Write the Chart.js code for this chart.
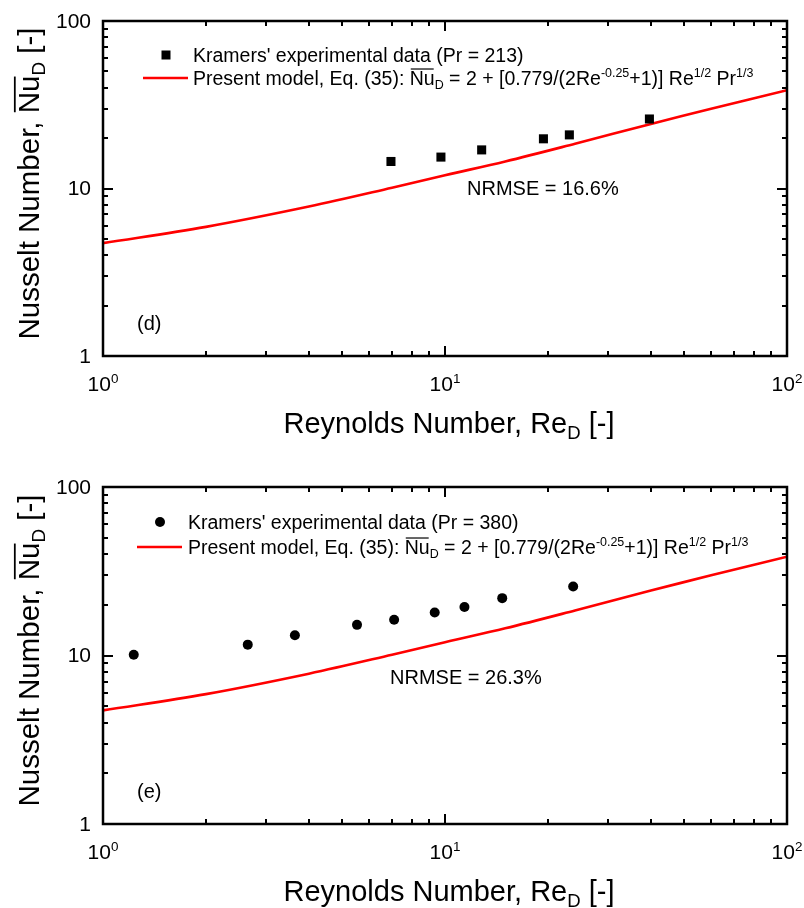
<!DOCTYPE html>
<html lang="en">
<head>
<meta charset="UTF-8">
<title>Nusselt number vs Reynolds number - Kramers' data</title>
<script src="https://cdn.jsdelivr.net/npm/chart.js@4.4.1/dist/chart.umd.min.js"></script>
<style>
  html, body { margin: 0; padding: 0; background: #fff; }
  canvas { display: block; }
</style>
</head>
<body>
<canvas id="chartD" width="804" height="454"></canvas>
<canvas id="chartE" width="804" height="454"></canvas>
<script>
// panel (d): Kramers' data, Pr = 213
var reD = [6.95, 9.73, 12.8, 19.4, 23.1, 39.6];
var nuD = [14.5, 15.4, 17.0, 19.8, 20.9, 26.0];

// panel (e): Kramers' data, Pr = 380
var reE = [1.23, 2.65, 3.64, 5.53, 7.10, 9.33, 11.4, 14.7, 23.7];
var nuE = [10.1, 11.6, 13.2, 15.2, 16.3, 18.0, 19.4, 21.9, 25.7];

// Eq. (35) curve (same line in both panels)
var modelRe = [1, 2, 4, 7, 10, 15, 24, 40, 60, 100];
var modelNu = [4.72, 5.9, 7.8, 10.1, 12.0, 14.5, 18.5, 24.3, 29.9, 38.6];

// axis ticks
var majorTicks = [1, 10, 100];
var xTickLabels = [['10', '0'], ['10', '1'], ['10', '2']];
var yTickLabels = ['1', '10', '100'];

var FONT = '"Liberation Sans", Arial, Helvetica, sans-serif';

// minor tick positions 2..9, 20..90
var minorTicks = [];
[1, 10].forEach(function (d) {
    for (var k = 2; k <= 9; k++) minorTicks.push(k * d);
});

// text with sub/superscripts and overlines, y is the baseline
function partFont(p, size) {
    return (p.s ? size * 0.64 : size) + 'px ' + FONT;
}
function drawRich(ctx, parts, x, y, size, align) {
    var total = 0;
    parts.forEach(function (p) {
        ctx.font = partFont(p, size);
        p.w = ctx.measureText(p.t).width;
        total += p.w;
    });
    var cx = align === 'center' ? x - total / 2 : x;
    ctx.textAlign = 'left';
    ctx.textBaseline = 'alphabetic';
    parts.forEach(function (p) {
        ctx.font = partFont(p, size);
        var dy = p.s === 'sub' ? size * 0.22 : (p.s === 'sup' ? -size * 0.4 : 0);
        ctx.fillText(p.t, cx, y + dy);
        if (p.over) {
            ctx.save();
            ctx.lineWidth = Math.max(1.2, size * 0.06);
            ctx.beginPath();
            ctx.moveTo(cx + 1, y - size * 0.82);
            ctx.lineTo(cx + p.w - 1, y - size * 0.82);
            ctx.stroke();
            ctx.restore();
        }
        cx += p.w;
    });
}

var modelParts = [
    { t: "Present model, Eq. (35): " },
    { t: 'Nu', over: true },
    { t: 'D', s: 'sub' },
    { t: ' = 2 + [0.779/(2Re' },
    { t: '-0.25', s: 'sup' },
    { t: '+1)] Re' },
    { t: '1/2', s: 'sup' },
    { t: ' Pr' },
    { t: '1/3', s: 'sup' }
];
var xTitleParts = [
    { t: 'Reynolds Number, Re' },
    { t: 'D', s: 'sub' },
    { t: ' [-]' }
];
var yTitleParts = [
    { t: 'Nusselt Number, ' },
    { t: 'Nu', over: true },
    { t: 'D', s: 'sub' },
    { t: ' [-]' }
];

// frame, inward ticks, labels, titles, legend and notes
var paperFrame = {
    id: 'paperFrame',
    afterDraw: function (chart, args, o) {
        var ctx = chart.ctx;
        var a = chart.chartArea;
        var xs = chart.scales.x, ys = chart.scales.y;
        ctx.save();
        ctx.strokeStyle = '#000';
        ctx.fillStyle = '#000';

        // tick marks on all four sides
        ctx.lineWidth = 2;
        ctx.beginPath();
        majorTicks.concat(minorTicks).forEach(function (v) {
            if (v <= 1 || v >= 100) return;
            var len = majorTicks.indexOf(v) >= 0 ? 10 : 5;
            var px = Math.round(xs.getPixelForValue(v));
            var py = Math.round(ys.getPixelForValue(v));
            ctx.moveTo(px, a.bottom); ctx.lineTo(px, a.bottom - len);
            ctx.moveTo(px, a.top); ctx.lineTo(px, a.top + len);
            ctx.moveTo(a.left, py); ctx.lineTo(a.left + len, py);
            ctx.moveTo(a.right, py); ctx.lineTo(a.right - len, py);
        });
        ctx.stroke();

        ctx.lineWidth = 2.5;
        ctx.strokeRect(a.left, a.top, a.right - a.left, a.bottom - a.top);

        // y tick labels
        ctx.font = '21px ' + FONT;
        ctx.textAlign = 'right';
        ctx.textBaseline = 'middle';
        majorTicks.forEach(function (v, i) {
            ctx.fillText(yTickLabels[i], a.left - 12, ys.getPixelForValue(v) + 1);
        });

        // x tick labels 10^n
        majorTicks.forEach(function (v, i) {
            drawRich(ctx, [{ t: xTickLabels[i][0] }, { t: xTickLabels[i][1], s: 'sup' }],
                xs.getPixelForValue(v), a.bottom + 35, 21, 'center');
        });

        // axis titles
        drawRich(ctx, xTitleParts, (a.left + a.right) / 2 + 4, a.bottom + 77, 29, 'center');
        ctx.save();
        ctx.translate(39, (a.top + a.bottom) / 2 - 5);
        ctx.rotate(-Math.PI / 2);
        drawRich(ctx, yTitleParts, 0, 0, 29.5, 'center');
        ctx.restore();

        // legend
        var lg = o.legend;
        if (o.marker === 'rect') {
            ctx.fillRect(a.left + lg.mx - 4.5, a.top + lg.row1 - 4.5, 9, 9);
        } else {
            ctx.beginPath();
            ctx.arc(a.left + lg.mx, a.top + lg.row1, 5, 0, Math.PI * 2);
            ctx.fill();
        }
        ctx.strokeStyle = '#ff0000';
        ctx.lineWidth = 2.6;
        ctx.beginPath();
        ctx.moveTo(a.left + lg.lx0, a.top + lg.row2);
        ctx.lineTo(a.left + lg.lx1, a.top + lg.row2);
        ctx.stroke();
        ctx.strokeStyle = '#000';
        drawRich(ctx, [{ t: o.dataLabel }], a.left + lg.tx, a.top + lg.row1 + 7, 19.5, 'left');
        drawRich(ctx, modelParts, a.left + lg.tx, a.top + lg.row2 + 7, 19.5, 'left');

        // NRMSE note and panel letter
        drawRich(ctx, [{ t: o.nrmse }], a.left + o.nrmseX, a.top + o.nrmseY + 7, 20, 'left');
        drawRich(ctx, [{ t: o.letter }], a.left + 34, a.bottom - 26, 20, 'left');

        ctx.restore();
    }
};

function makePanel(id, re, nu, marker, radius, frameOpts, padding) {
    var pts = re.map(function (r, i) { return { x: r, y: nu[i] }; });
    var curve = modelRe.map(function (r, i) { return { x: r, y: modelNu[i] }; });
    return new Chart(document.getElementById(id), {
        type: 'scatter',
        data: {
            datasets: [{
                label: 'Present model, Eq. (35)',
                data: curve,
                showLine: true,
                borderColor: '#ff0000',
                borderWidth: 2.6,
                pointRadius: 0,
                tension: 0.35,
                order: 2
            }, {
                label: frameOpts.dataLabel,
                data: pts,
                pointStyle: marker,
                pointRadius: radius,
                backgroundColor: '#000',
                borderColor: '#000',
                borderWidth: 0,
                order: 1
            }]
        },
        options: {
            responsive: false,
            animation: false,
            devicePixelRatio: 1,
            layout: { padding: padding },
            scales: {
                x: { type: 'logarithmic', min: 1, max: 100, display: false },
                y: { type: 'logarithmic', min: 1, max: 100, display: false }
            },
            plugins: {
                legend: { display: false },
                tooltip: { enabled: false },
                paperFrame: frameOpts
            }
        },
        plugins: [paperFrame]
    });
}

makePanel('chartD', reD, nuD, 'rect', 6.4, {
    dataLabel: "Kramers' experimental data (Pr = 213)",
    marker: 'rect',
    legend: { mx: 63, lx0: 40, lx1: 85, tx: 90, row1: 34, row2: 57 },
    nrmse: 'NRMSE = 16.6%', nrmseX: 364, nrmseY: 167,
    letter: '(d)'
}, { left: 103, right: 17, top: 21, bottom: 98 });

makePanel('chartE', reE, nuE, 'circle', 5, {
    dataLabel: "Kramers' experimental data (Pr = 380)",
    marker: 'circle',
    legend: { mx: 57, lx0: 34, lx1: 79, tx: 85, row1: 35, row2: 60 },
    nrmse: 'NRMSE = 26.3%', nrmseX: 287, nrmseY: 190,
    letter: '(e)'
}, { left: 103, right: 17, top: 33, bottom: 84 });
</script>
</body>
</html>
